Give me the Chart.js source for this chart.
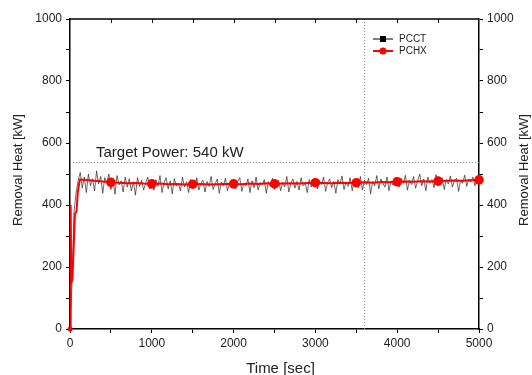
<!DOCTYPE html>
<html>
<head>
<meta charset="utf-8">
<script src="https://cdn.jsdelivr.net/npm/chart.js@4.4.1/dist/chart.umd.min.js"></script>
<style>
html,body{margin:0;padding:0;background:#fff;}
canvas{display:block;}
</style>
</head>
<body>
<canvas id="c" width="532" height="375"></canvas>
<script>
// ---- data ----
const pcctStart = 0;
const pcctStep = 25; // seconds between PCCT samples
const pcctValues = [
  0, 150, 380, 440, 480,
  505, 455, 490, 440, 500, 462, 485, 445, 510, 468, 492, 438, 488, 470, 500, 450, 482, 435, 495, 465,
  478, 442, 490, 458, 485, 445, 475, 432, 488, 460, 480, 448, 470, 490, 452, 476,
  448, 482, 460, 495, 440, 472, 488, 452, 478, 436, 485, 462, 470, 445, 490, 458, 475, 440, 482, 466,
  455, 488, 448, 470, 480, 442, 476, 460, 492, 450, 468, 484, 438, 474, 462, 486, 446, 470, 458, 480,
  452, 476, 488, 444, 470, 462, 484, 440, 478, 456, 490, 448, 472, 465, 482, 438, 475, 460, 486, 450,
  468, 480, 446, 474, 458, 492, 442, 470, 484, 455, 476, 448, 488, 462, 470, 440, 482, 458, 474, 486,
  452, 478, 466, 490, 444, 472, 484, 456, 476, 438, 482, 468, 494, 450, 474, 460, 488, 446, 478, 470,
  456, 492, 448, 480, 466, 486, 436, 476, 462, 495, 452, 484, 470, 458, 490, 446, 478, 464, 488, 472,
  458, 486, 470, 496, 448, 480, 466, 492, 454, 478, 500, 462, 484, 446, 490, 470, 482, 456, 498, 464,
  476, 488, 450, 482, 468, 494, 458, 478, 486, 444, 480, 470, 496, 460, 484, 474, 490, 462, 482, 486
];
const pchxTime = [0, 8, 15, 30, 60, 80, 95, 120, 200, 300, 400, 500, 600, 700, 800, 900, 1000,
  1100, 1200, 1300, 1400, 1500, 1600, 1700, 1800, 1900, 2000, 2100, 2200, 2300, 2400, 2500,
  2600, 2700, 2800, 2900, 3000, 3100, 3200, 3300, 3400, 3500, 3600, 3700, 3800, 3900, 4000,
  4100, 4200, 4300, 4400, 4500, 4600, 4700, 4800, 4900, 5000];
const pchxValues = [0, 400, 150, 160, 370, 380, 440, 482, 481, 478, 476, 473, 472, 470, 471, 469, 468,
  469, 467, 468, 466, 467, 468, 466, 467, 468, 468, 467, 469, 468, 470, 468,
  469, 470, 469, 471, 472, 471, 470, 472, 471, 472, 473, 472, 474, 473, 475,
  476, 475, 477, 476, 477, 478, 479, 478, 480, 481];
const targetPower = 540;
const targetLabel = 'Target Power: 540 kW';
const markerTime = 3600;
const seriesNames = ['PCCT', 'PCHX'];
const axisTitleY = 'Removal Heat [kW]';
const axisTitleX = 'Time [sec]';

const pcctData = pcctValues.map((v, i) => ({x: pcctStart + i * pcctStep, y: v}));
const pchxData = pchxTime.map((t, i) => ({x: t, y: pchxValues[i]}));

const FONT = "'Liberation Sans', Arial, sans-serif";
const TXT = '#222';

const decor = {
  id: 'decor',
  beforeDatasetsDraw(chart) {
    const {ctx, chartArea: a, scales} = chart;
    const yT = scales.y.getPixelForValue(targetPower);
    const xM = scales.x.getPixelForValue(markerTime);
    ctx.save();
    ctx.strokeStyle = '#8a8a8a';
    ctx.lineWidth = 1;
    ctx.setLineDash([1, 2]);
    ctx.beginPath();
    ctx.moveTo(a.left, Math.round(yT) + 0.5);
    ctx.lineTo(a.right, Math.round(yT) + 0.5);
    ctx.moveTo(Math.round(xM) + 0.5, a.top);
    ctx.lineTo(Math.round(xM) + 0.5, a.bottom);
    ctx.stroke();
    ctx.setLineDash([]);
    ctx.fillStyle = TXT;
    ctx.font = '15px ' + FONT;
    ctx.textBaseline = 'alphabetic';
    ctx.fillText(targetLabel, 96, yT - 5);
    ctx.restore();
  },
  afterDraw(chart) {
    const {ctx, chartArea: a, scales} = chart;
    ctx.save();
    // top border and inward ticks
    ctx.strokeStyle = '#000';
    ctx.lineWidth = 1.5;
    ctx.beginPath();
    ctx.moveTo(a.left, a.top);
    ctx.lineTo(a.right, a.top);
    ctx.stroke();
    ctx.lineWidth = 1;
    ctx.beginPath();
    for (let t = 500; t < 5000; t += 500) {
      const x = Math.round(scales.x.getPixelForValue(t)) + 0.5;
      ctx.moveTo(x, a.top);
      ctx.lineTo(x, a.top + 4);
    }
    ctx.stroke();
    // axis titles
    ctx.fillStyle = TXT;
    ctx.textAlign = 'center';
    ctx.textBaseline = 'alphabetic';
    ctx.font = '13px ' + FONT;
    const yc = (a.top + a.bottom) / 2 - 4;
    [[22, yc], [528, yc]].forEach(([x, y]) => {
      ctx.save();
      ctx.translate(x, y);
      ctx.rotate(-Math.PI / 2);
      ctx.fillText(axisTitleY, 0, 0);
      ctx.restore();
    });
    ctx.font = '15px ' + FONT;
    ctx.fillText(axisTitleX, (a.left + a.right) / 2 + 6, 373);
    // legend
    const lx = 373, items = [
      {y: 39, color: '#000', shape: 'rect'},
      {y: 51, color: '#ff0000', shape: 'circle'}
    ];
    ctx.textAlign = 'left';
    ctx.font = '10px ' + FONT;
    ctx.textBaseline = 'middle';
    items.forEach((it, i) => {
      ctx.strokeStyle = it.color;
      ctx.fillStyle = it.color;
      ctx.lineWidth = i === 0 ? 1 : 2;
      ctx.beginPath();
      ctx.moveTo(lx, it.y);
      ctx.lineTo(lx + 20, it.y);
      ctx.stroke();
      if (it.shape === 'rect') {
        ctx.fillRect(lx + 7, it.y - 3, 6, 6);
      } else {
        ctx.beginPath();
        ctx.arc(lx + 10, it.y, 3.5, 0, Math.PI * 2);
        ctx.fill();
      }
      ctx.fillStyle = TXT;
      ctx.fillText(seriesNames[i], lx + 26, it.y);
    });
    ctx.restore();
  }
};

const yTicks = {
  stepSize: 100,
  color: TXT,
  font: {family: FONT, size: 12},
  padding: 4,
  callback: v => (v % 200 === 0 ? v : '')
};

new Chart(document.getElementById('c'), {
  type: 'line',
  data: {
    datasets: [
      {
        label: seriesNames[1],
        data: pchxData,
        borderColor: '#ff0000',
        backgroundColor: '#ff0000',
        borderWidth: 2,
        pointRadius: ctx => {
          const x = ctx.raw && ctx.raw.x;
          if (x === 0) return 1.5;
          return (x % 500 === 0) ? 3.8 : 0;
        },
        pointHoverRadius: 0,
        tension: 0,
        order: 1,
        clip: false
      },
      {
        label: seriesNames[0],
        data: pcctData,
        borderColor: 'rgba(20,20,20,0.8)',
        borderWidth: 0.8,
        pointRadius: 0,
        tension: 0,
        order: 2
      }
    ]
  },
  options: {
    responsive: false,
    animation: false,
    events: [],
    layout: {padding: {top: 19, left: 0, right: 0, bottom: 0}},
    plugins: {legend: {display: false}, tooltip: {enabled: false}},
    scales: {
      x: {
        type: 'linear',
        min: 0, max: 5000,
        afterFit: s => { s.height = 46; },
        border: {color: '#000', width: 1.5},
        grid: {drawOnChartArea: false, drawTicks: true, tickLength: 4, color: '#000'},
        ticks: {
          stepSize: 500,
          color: TXT,
          font: {family: FONT, size: 12},
          padding: 3,
          maxRotation: 0,
          autoSkip: false,
          callback: v => (v % 1000 === 0 ? v : '')
        }
      },
      y: {
        position: 'left',
        min: 0, max: 1000,
        afterFit: s => { s.width = 70; },
        border: {color: '#000', width: 1.5},
        grid: {drawOnChartArea: false, drawTicks: true, tickLength: 4, color: '#000'},
        ticks: yTicks
      },
      y2: {
        position: 'right',
        min: 0, max: 1000,
        afterFit: s => { s.width = 53; },
        border: {color: '#000', width: 1.5},
        grid: {drawOnChartArea: false, drawTicks: true, tickLength: 4, color: '#000'},
        ticks: yTicks
      }
    }
  },
  plugins: [decor]
});
</script>
</body>
</html>
